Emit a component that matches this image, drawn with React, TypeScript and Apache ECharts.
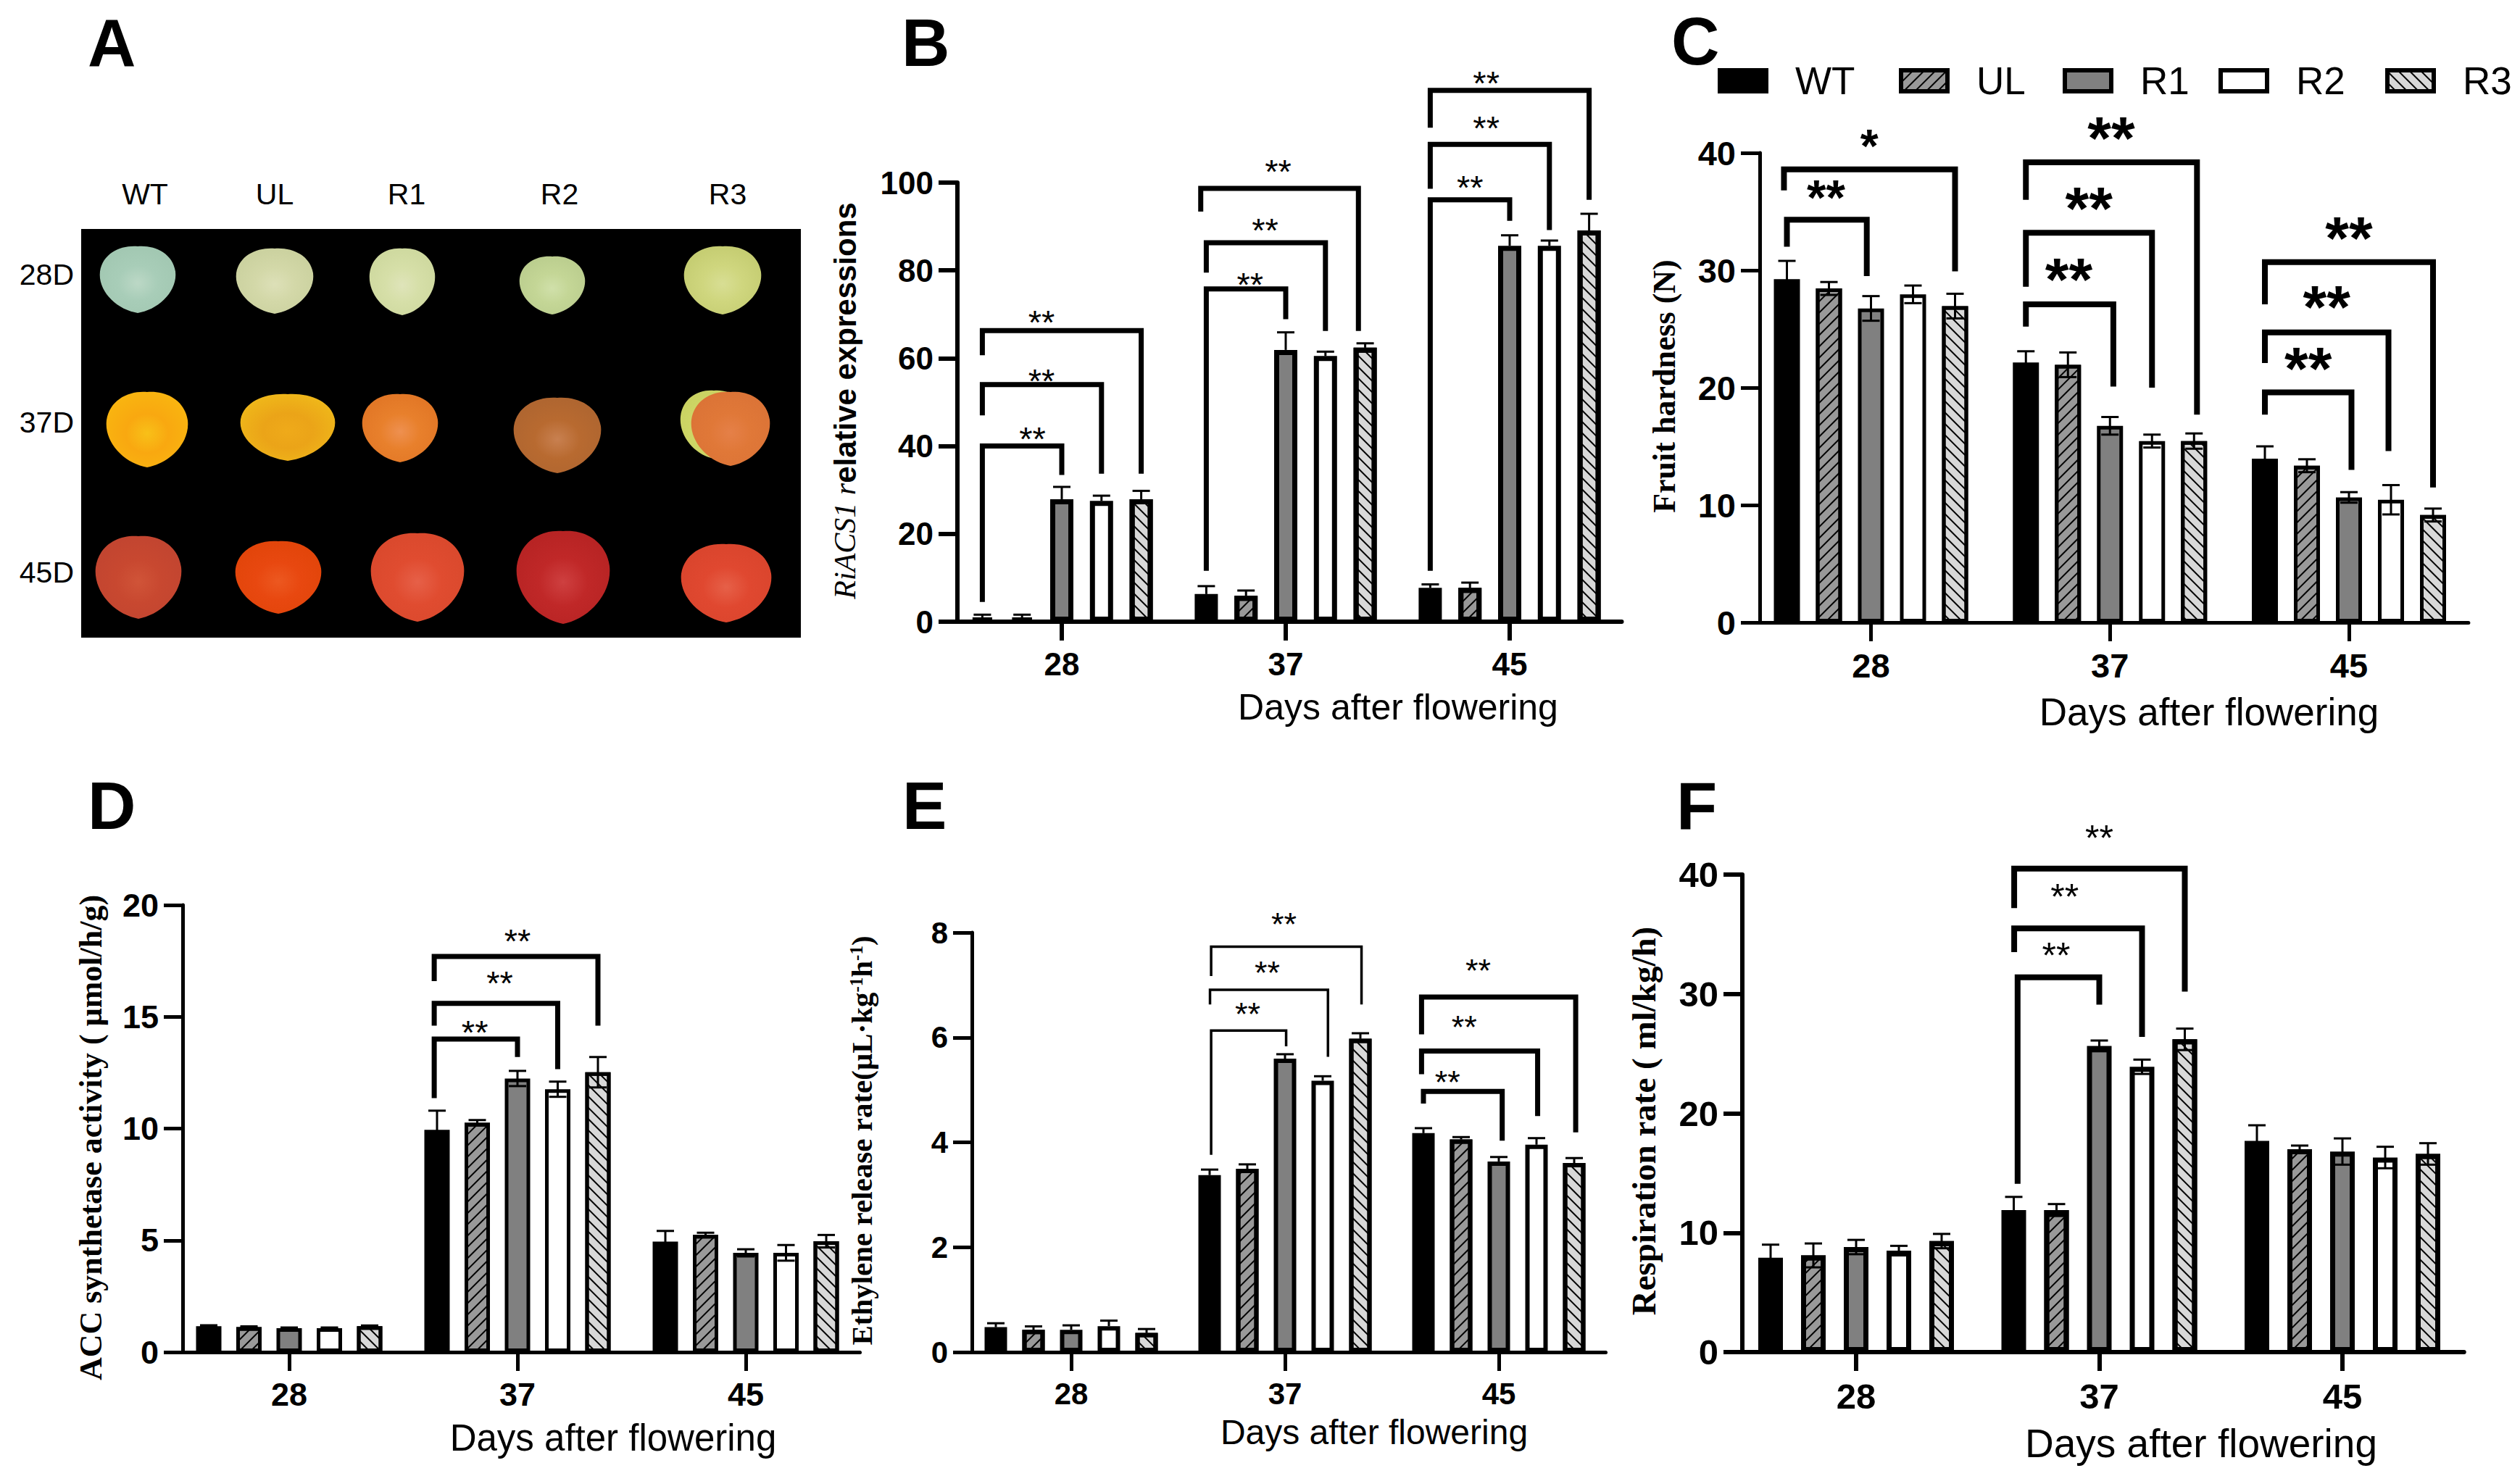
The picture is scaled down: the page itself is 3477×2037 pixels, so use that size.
import React, { useEffect, useRef } from "react";
import * as echarts from "echarts";

const days = ["28", "37", "45"];
const lines = ["WT", "UL", "R1", "R2", "R3"];

// values by line (WT, UL, R1, R2, R3), each with the three days
const bValues = [[0.8, 6.3, 7.7], [0.8, 5.9, 7.7], [27.9, 61.9, 85.6], [27.5, 60.5, 85.6], [27.9, 62.4, 89.1]];
const bErrors = [[0.8, 1.8, 0.8], [0.8, 1.2, 1.2], [2.8, 4.0, 2.4], [1.2, 1.0, 1.2], [1.9, 1.0, 3.8]];
const cValues = [[29.25, 22.15, 13.95], [28.45, 21.95, 13.35], [26.75, 16.75, 10.65], [27.95, 15.45, 10.45], [26.95, 15.45, 9.15]];
const cErrors = [[1.55, 0.95, 1.05], [0.55, 1.05, 0.55], [1.05, 0.75, 0.45], [0.75, 0.55, 1.25], [1.05, 0.65, 0.55]];
const dValues = [[1.16, 9.94, 4.94], [1.12, 10.26, 5.24], [1.07, 12.24, 4.44], [1.07, 11.76, 4.44], [1.16, 12.52, 4.96]];
const dErrors = [[0.04, 0.86, 0.48], [0.03, 0.12, 0.1], [0.03, 0.34, 0.16], [0.03, 0.34, 0.35], [0.03, 0.68, 0.28]];
const eValues = [[0.475, 3.375, 4.175], [0.425, 3.495, 4.055], [0.425, 5.595, 3.635], [0.495, 5.175, 3.955], [0.365, 5.975, 3.605]];
const eErrors = [[0.075, 0.105, 0.095], [0.065, 0.085, 0.045], [0.085, 0.085, 0.085], [0.105, 0.085, 0.125], [0.075, 0.105, 0.095]];
const fValues = [[7.9, 11.9, 17.7], [8.1, 11.9, 17.0], [8.8, 25.65, 16.8], [8.5, 23.9, 16.3], [9.3, 26.2, 16.6]];
const fErrors = [[1.1, 1.1, 1.3], [1.0, 0.5, 0.3], [0.6, 0.45, 1.1], [0.4, 0.6, 0.9], [0.6, 0.9, 0.9]];

// significance brackets: day, left slot, right slot, left foot, top, right foot, label slot, label value, label
type Bracket = [number, number, number, number, number, number, number, number, string];
const bBrackets: Bracket[] = [
  [0, 0, 2, 4.5, 40, 33.4, 1.26, 42.6, "**"],
  [0, 0, 3, 47, 54, 33.7, 1.49, 55.8, "**"],
  [0, 0, 4, 60.7, 66.3, 33.7, 1.49, 69.3, "**"],
  [1, 0, 2, 11.6, 75.8, 68.9, 1.1, 77.9, "**"],
  [1, 0, 3, 79.5, 86.3, 66.2, 1.48, 90.2, "**"],
  [1, -0.14, 3.83, 93.4, 98.7, 66.2, 1.81, 103.5, "**"],
  [2, 0, 2, 11.6, 96.1, 91.3, 1.0, 100, "**"],
  [2, 0, 3, 98.6, 108.7, 89.2, 1.41, 113.5, "**"],
  [2, 0, 4, 112.5, 121, 96.1, 1.41, 123.7, "**"],
];
const cBrackets: Bracket[] = [
  [0, 0, 1.9, 32, 34.3, 29.5, 0.93, 36.8, "**"],
  [0, -0.07, 4, 36.8, 38.6, 29.9, 1.96, 41.1, "*"],
  [1, 0, 2.08, 25.2, 27.1, 20.1, 1.02, 29.9, "**"],
  [1, 0, 3, 28.6, 33.2, 20, 1.5, 35.9, "**"],
  [1, 0, 4.07, 36, 39.2, 17.7, 2.03, 41.9, "**"],
  [2, 0, 2.06, 17.7, 19.6, 13, 1.03, 22.3, "**"],
  [2, 0, 2.94, 22.1, 24.7, 14.6, 1.47, 27.5, "**"],
  [2, 0, 4, 27.1, 30.7, 11.5, 2, 33.4, "**"],
];
const dBrackets: Bracket[] = [
  [1, -0.07, 2, 11.36, 14, 13.2, 0.94, 14.5, "**"],
  [1, -0.07, 3, 14.6, 15.6, 12.66, 1.56, 16.7, "**"],
  [1, -0.07, 4, 16.6, 17.7, 14.6, 2, 18.6, "**"],
];
const eBrackets: Bracket[] = [
  [1, 0.04, 2.03, 3.76, 6.13, 5.83, 1.01, 6.52, "**"],
  [1, 0.01, 3.14, 6.63, 6.91, 5.63, 1.53, 7.32, "**"],
  [1, 0.04, 4.03, 7.17, 7.73, 6.63, 1.97, 8.24, "**"],
  [2, 0, 2.09, 4.74, 4.97, 4.03, 0.64, 5.23, "**"],
  [2, -0.05, 3.03, 5.3, 5.74, 4.5, 1.08, 6.28, "**"],
  [2, -0.05, 4.04, 6.06, 6.77, 4.19, 1.45, 7.35, "**"],
];
const fBrackets: Bracket[] = [
  [1, 0.09, 2, 14.1, 31.4, 29.1, 0.99, 33.6, "**"],
  [1, 0.01, 3, 33.5, 35.5, 26.4, 1.19, 38.5, "**"],
  [1, 0.01, 4, 37.2, 40.5, 30.2, 2, 43.4, "**"],
];

const xTitle = "Days after flowering";
const photoColumns = ["WT", "UL", "R1", "R2", "R3"];
const photoRows = ["28D", "37D", "45D"];

const SANS = "'Liberation Sans', Arial, sans-serif";
const SERIF = "'Liberation Serif', 'Times New Roman', serif";

echarts.graphic.registerShape(
  "tomato",
  echarts.graphic.extendPath(
    "M0 -1 C0.45 -1.04 0.92 -0.8 1 -0.25 C1.06 0.3 0.62 0.84 0.08 0.98 L0 1 L-0.08 0.98 C-0.62 0.84 -1.06 0.3 -1 -0.25 C-0.92 -0.8 -0.45 -1.04 0 -1 Z",
    {}
  )
);

const panels = [
  { values: bValues, errors: bErrors, brackets: bBrackets, bothWays: false, yMax: 100, yStep: 20, axisX: 1321, top: 252, bottom: 858, center0: 1465, band: 309, slot: 54.8, outer: 39, border: 7, axisW: 6, fs: 44, star: 47, starBold: false, bracketW: [7, 7, 7], starSizes: null as any },
  { values: cValues, errors: cErrors, brackets: cBrackets, bothWays: true, yMax: 40, yStep: 10, axisX: 2428, top: 211, bottom: 859, center0: 2581.5, band: 329.75, slot: 58, outer: 41, border: 5, axisW: 5, fs: 47, star: 84, starBold: true, bracketW: [8, 8, 8], starSizes: [68, 64, 84, 84, 84, 84, 84, 84] },
  { values: dValues, errors: dErrors, brackets: dBrackets, bothWays: true, yMax: 20, yStep: 5, axisX: 252, top: 1249, bottom: 1866, center0: 399, band: 315, slot: 55.5, outer: 40, border: 5, axisW: 5, fs: 45, star: 47, starBold: false, bracketW: [7, 7, 7], starSizes: null },
  { values: eValues, errors: eErrors, brackets: eBrackets, bothWays: false, yMax: 8, yStep: 2, axisX: 1341, top: 1287, bottom: 1866, center0: 1478, band: 295, slot: 52, outer: 37, border: 6, axisW: 5, fs: 42, star: 45, starBold: false, bracketW: [3.5, 3.5, 7], starSizes: null },
  { values: fValues, errors: fErrors, brackets: fBrackets, bothWays: true, yMax: 40, yStep: 10, axisX: 2404, top: 1207, bottom: 1866, center0: 2561, band: 335.5, slot: 59, outer: 41, border: 7, axisW: 6, fs: 49, star: 50, starBold: false, bracketW: [7, 8, 8], starSizes: null },
];

const decal = (rot: number, bg: string) => ({
  symbol: "rect",
  symbolSize: 1,
  dashArrayX: [1, 0],
  dashArrayY: [2, 9],
  rotation: rot,
  color: "#000",
  backgroundColor: bg,
});
const lineStyles: any[] = [
  { color: "#000" },
  { color: "#999", decal: decal(-Math.PI / 4, "#999") },
  { color: "#808080" },
  { color: "#fff" },
  { color: "#d8d8d8", decal: decal(Math.PI / 4, "#d8d8d8") },
];

function buildOption() {
  const grid: any[] = [];
  const xAxis: any[] = [];
  const yAxis: any[] = [];
  const series: any[] = [];

  panels.forEach((p, i) => {
    const left = p.center0 - p.band / 2;
    grid.push({ left, top: p.top, width: p.band * 3, height: p.bottom - p.top, containLabel: false });
    const line = { show: true, lineStyle: { color: "#000", width: p.axisW } };
    const tick = { show: true, length: 26, lineStyle: { color: "#000", width: p.axisW } };
    xAxis.push({
      type: "category",
      gridIndex: i,
      data: days,
      axisLine: line,
      axisTick: { ...tick, alignWithLabel: true },
      axisLabel: { fontSize: p.fs, fontWeight: "bold", color: "#000", margin: 36, fontFamily: SANS },
    });
    yAxis.push({
      type: "value",
      gridIndex: i,
      min: 0,
      max: p.yMax,
      interval: p.yStep,
      offset: left - p.axisX,
      axisLine: line,
      axisTick: tick,
      splitLine: { show: false },
      axisLabel: { fontSize: p.fs, fontWeight: "bold", color: "#000", margin: 33, fontFamily: SANS },
    });

    const barWidth = p.outer - p.border;
    lines.forEach((name, s) => {
      series.push({
        type: "bar",
        name,
        xAxisIndex: i,
        yAxisIndex: i,
        data: p.values[s],
        barWidth,
        barGap: `${((p.slot - barWidth) / barWidth) * 100}%`,
        itemStyle: { ...lineStyles[s], borderColor: "#000", borderWidth: p.border },
      });
    });

    const errRows: number[][] = [];
    lines.forEach((_, s) =>
      days.forEach((_d, c) => errRows.push([c, p.values[s][c] + p.errors[s][c], p.values[s][c] - p.errors[s][c], s]))
    );
    series.push({
      type: "custom",
      xAxisIndex: i,
      yAxisIndex: i,
      silent: true,
      z: 3,
      encode: { x: 0, y: 1 },
      data: errRows,
      renderItem: (_: any, api: any) => {
        const c = api.value(0);
        const hi = api.coord([c, api.value(1)]);
        const lo = api.coord([c, api.value(2)]);
        const x = hi[0] + (api.value(3) - 2) * p.slot;
        const style = { stroke: "#000", lineWidth: 3, fill: "none" };
        const caps = 12;
        const children: any[] = [
          { type: "line", shape: { x1: x, y1: hi[1], x2: x, y2: p.bothWays ? lo[1] : (hi[1] + lo[1]) / 2 }, style },
          { type: "line", shape: { x1: x - caps, y1: hi[1], x2: x + caps, y2: hi[1] }, style },
        ];
        if (p.bothWays) children.push({ type: "line", shape: { x1: x - caps, y1: lo[1], x2: x + caps, y2: lo[1] }, style });
        return { type: "group", children };
      },
    });

    series.push({
      type: "custom",
      xAxisIndex: i,
      yAxisIndex: i,
      silent: true,
      z: 4,
      clip: false,
      encode: { x: 0, y: 1 },
      data: p.brackets.map((b) => [b[0], b[4]]),
      renderItem: (params: any, api: any) => {
        const b = p.brackets[params.dataIndex];
        const sx = (slot: number) => api.coord([b[0], 0])[0] + (slot - 2) * p.slot;
        const sy = (v: number) => api.coord([b[0], v])[1];
        const size = p.starSizes ? p.starSizes[params.dataIndex] : p.star;
        return {
          type: "group",
          children: [
            {
              type: "polyline",
              shape: { points: [[sx(b[1]), sy(b[3])], [sx(b[1]), sy(b[4])], [sx(b[2]), sy(b[4])], [sx(b[2]), sy(b[5])]] },
              style: { stroke: "#000", lineWidth: p.bracketW[b[0]], fill: "none", lineJoin: "miter" },
            },
            {
              type: "text",
              x: sx(b[6]),
              y: sy(b[7]) + size * 0.13,
              style: {
                text: b[8],
                fontSize: size,
                fontWeight: p.starBold ? "bold" : "normal",
                fontFamily: SANS,
                fill: "#000",
                align: "center",
                verticalAlign: "middle",
              },
            },
          ],
        };
      },
    });
  });

  const legendLefts = [2370, 2620, 2846, 3061, 3291];
  const legend = lines.map((name, i) => ({
    data: [name],
    left: legendLefts[i],
    top: 85,
    padding: 0,
    icon: "rect",
    itemWidth: 64,
    itemHeight: 29,
    selectedMode: false,
    itemStyle: { borderColor: "#000", borderWidth: 6 },
    textStyle: { fontSize: 53, color: "#000", fontFamily: SANS, padding: [0, 0, 0, 35] },
  }));

  const text = (t: string, x: number, y: number, size: number, extra: any = {}, rotation = 0) => ({
    type: "text",
    x,
    y,
    rotation,
    z: 10,
    style: {
      text: t,
      fontSize: size,
      fontFamily: SANS,
      fill: "#000",
      align: "center",
      verticalAlign: "middle",
      ...extra,
    },
  });

  const fruits: [number, number, number, number, string, string, string][] = [
    [190, 386, 52, 46, "#bcd8c6", "#a8cdb8", "#a0c6b0"],
    [379, 388, 53, 45, "#dde0b8", "#d3d8a8", "#c8cf9c"],
    [555, 389, 45, 46, "#dfe4ba", "#d6dfa8", "#ccd79c"],
    [762, 394, 45, 40, "#d0e0aa", "#c4d696", "#b8cb8c"],
    [997, 387, 53, 47, "#d8de94", "#cfd67e", "#c2ca6e"],
    [203, 593, 56, 52, "#f8c018", "#f9a810", "#f9b810"],
    [397, 590, 65, 46, "#efaa1a", "#eba418", "#f0bc1a"],
    [552, 591, 52, 47, "#ee9050", "#e8802c", "#e07424"],
    [769, 601, 60, 52, "#c88050", "#b86a30", "#ac6430"],
    [985, 586, 46, 47, "#d8e078", "#d0d868", "#c8d060"],
    [1008, 592, 54, 51, "#e58048", "#e07838", "#da7236"],
    [191, 797, 59, 57, "#d05438", "#c84830", "#c04430"],
    [384, 797, 59, 50, "#ec5820", "#e84810", "#e04408"],
    [576, 797, 64, 61, "#e66048", "#e04c30", "#d8482c"],
    [777, 797, 64, 64, "#ce4040", "#c02828", "#b42222"],
    [1002, 805, 62, 54, "#e66048", "#e04830", "#d8442c"],
  ];

  const photo: any[] = [
    { type: "rect", shape: { x: 112, y: 316, width: 993, height: 564 }, style: { fill: "#000" }, z: 1 },
  ];
  fruits.forEach(([x, y, rx, ry, c0, c1, c2]) => {
    photo.push({
      type: "tomato",
      x,
      y,
      scaleX: rx,
      scaleY: ry,
      z: 2,
      style: {
        fill: {
          type: "radial",
          x: 0.5,
          y: 0.55,
          r: 0.65,
          colorStops: [
            { offset: 0, color: c0 },
            { offset: 0.4, color: c1 },
            { offset: 1, color: c2 },
          ],
        },
      },
    });
  });

  const graphic = [
    ...photo,
    ...photoColumns.map((t, i) => text(t, [200, 379, 561, 772, 1004][i], 268, 41)),
    ...photoRows.map((t, i) => text(t, 102, [379, 583, 790][i], 41, { align: "right" })),
    text("A", 121, 59, 92, { fontWeight: "bold", align: "left" }),
    text("B", 1244, 59, 92, { fontWeight: "bold", align: "left" }),
    text("C", 2306, 57, 92, { fontWeight: "bold", align: "left" }),
    text("D", 121, 1112, 92, { fontWeight: "bold", align: "left" }),
    text("E", 1245, 1112, 92, { fontWeight: "bold", align: "left" }),
    text("F", 2313, 1112, 92, { fontWeight: "bold", align: "left" }),
    text(xTitle, 1929, 976, 50),
    text(xTitle, 3048, 982, 53),
    text(xTitle, 846, 1984, 51),
    text(xTitle, 1896, 1976, 48),
    text(xTitle, 3037, 1992, 55),
    text(
      "{i|RiACS1 r}{b|elative expressions}",
      1166,
      553,
      42,
      {
        rich: {
          i: { fontFamily: SERIF, fontStyle: "italic", fontSize: 42, fill: "#000" },
          b: { fontFamily: SANS, fontWeight: "bold", fontSize: 42, fill: "#000" },
        },
      },
      Math.PI / 2
    ),
    text("Fruit hardness (N)", 2296, 533, 44, { fontFamily: SERIF, fontWeight: "bold" }, Math.PI / 2),
    text("ACC synthetase activity ( μmol/h/g)", 125, 1570, 44, { fontFamily: SERIF, fontWeight: "bold" }, Math.PI / 2),
    text(
      "{b|Ethylene release rate(μL·kg}{s|-1}{b|h}{s|-1}{b|)}",
      1189,
      1574,
      41,
      {
        rich: {
          b: { fontFamily: SERIF, fontWeight: "bold", fontSize: 41, fill: "#000" },
          s: { fontFamily: SERIF, fontWeight: "bold", fontSize: 25, fill: "#000", verticalAlign: "top" },
        },
      },
      Math.PI / 2
    ),
    text("Respiration rate ( ml/kg/h)", 2268, 1547, 47, { fontFamily: SERIF, fontWeight: "bold" }, Math.PI / 2),
  ];

  return {
    animation: false,
    backgroundColor: "#fff",
    textStyle: { fontFamily: SANS },
    grid,
    xAxis,
    yAxis,
    legend,
    series,
    graphic: { elements: graphic },
  };
}

export default function App() {
  const ref = useRef<HTMLDivElement>(null);
  useEffect(() => {
    const chart = echarts.init(ref.current!, null, { renderer: "svg" });
    chart.setOption(buildOption() as any);
    return () => chart.dispose();
  }, []);
  return <div ref={ref} style={{ position: "absolute", left: 0, top: 0, width: 3477, height: 2037 }} />;
}
